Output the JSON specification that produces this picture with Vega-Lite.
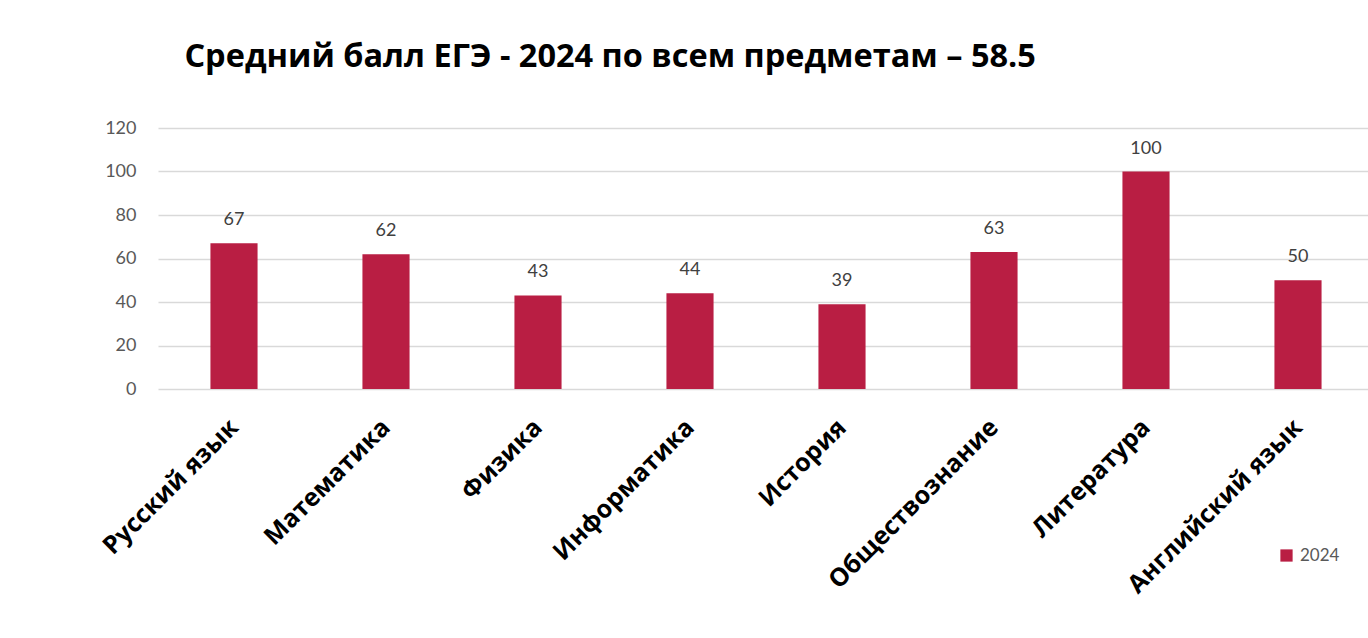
{
  "$schema": "https://vega.github.io/schema/vega-lite/v6.json",
  "autosize": "none",
  "width": 1216,
  "height": 261,
  "padding": {"left": 158, "top": 128, "right": 0, "bottom": 249},
  "background": "white",
  "title": {
    "text": "Средний балл ЕГЭ - 2024 по всем предметам – 58.5",
    "anchor": "start",
    "dx": 86,
    "offset": 46,
    "font": "Open Sans",
    "fontSize": 32.5,
    "fontWeight": "bold",
    "color": "#000000"
  },
  "data": {
    "values": [
      {"subject": "Русский язык", "score": 67, "year": "2024"},
      {"subject": "Математика", "score": 62, "year": "2024"},
      {"subject": "Физика", "score": 43, "year": "2024"},
      {"subject": "Информатика", "score": 44, "year": "2024"},
      {"subject": "История", "score": 39, "year": "2024"},
      {"subject": "Обществознание", "score": 63, "year": "2024"},
      {"subject": "Литература", "score": 100, "year": "2024"},
      {"subject": "Английский язык", "score": 50, "year": "2024"}
    ]
  },
  "encoding": {
    "x": {
      "field": "subject",
      "type": "nominal",
      "sort": null,
      "scale": {"paddingInner": 0.69, "paddingOuter": 0.345},
      "axis": {
        "title": null,
        "labelAngle": -45,
        "labelAlign": "right",
        "labelBaseline": "middle",
        "labelFont": "Open Sans",
        "labelFontSize": 25,
        "labelFontWeight": "bold",
        "labelColor": "#000000",
        "labelPadding": 34,
        "ticks": false,
        "domain": false,
        "labelLimit": 400
      }
    },
    "y": {
      "field": "score",
      "type": "quantitative",
      "scale": {"domain": [0, 120]},
      "axis": {
        "title": null,
        "values": [0, 20, 40, 60, 80, 100, 120],
        "labelFont": "Lato",
        "labelFontSize": 18,
        "labelColor": "#595959",
        "labelPadding": 22,
        "ticks": false,
        "domain": false,
        "gridColor": "#d9d9d9",
        "gridWidth": 1.5
      }
    }
  },
  "layer": [
    {
      "mark": {"type": "bar"},
      "encoding": {
        "color": {
          "field": "year",
          "type": "nominal",
          "scale": {"range": ["#B91E43"]},
          "legend": {
            "title": null,
            "orient": "none",
            "legendX": 1120,
            "legendY": 419,
            "symbolType": "square",
            "symbolSize": 150,
            "symbolStrokeWidth": 0,
            "labelFont": "Lato",
            "labelFontSize": 17,
            "labelColor": "#595959",
            "labelOffset": 5
          }
        }
      }
    },
    {
      "mark": {"type": "text", "baseline": "bottom", "dy": -14, "font": "Lato", "fontSize": 18, "color": "#404040"},
      "encoding": {"text": {"field": "score", "type": "quantitative"}}
    }
  ],
  "config": {"view": {"stroke": null}}
}
